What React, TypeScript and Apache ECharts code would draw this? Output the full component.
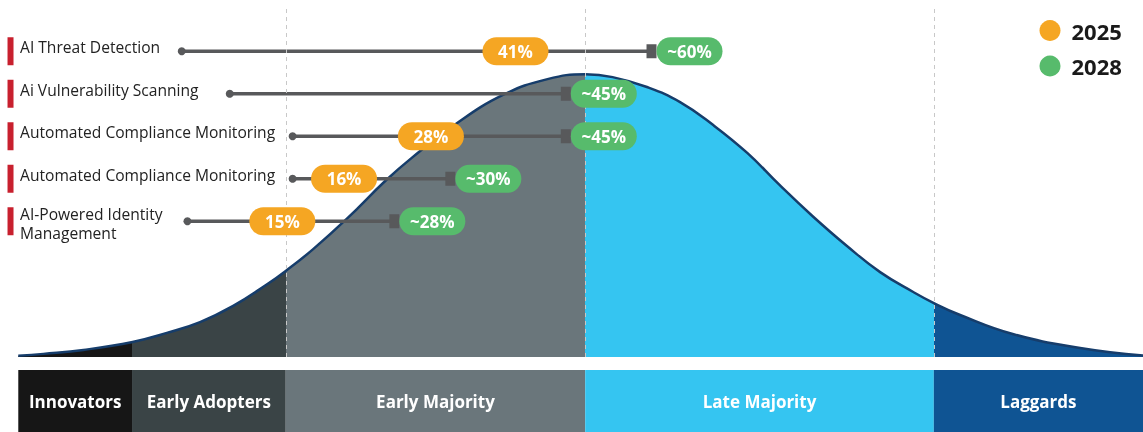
import React, { useEffect, useRef } from "react";
import * as echarts from "echarts";

// Adoption phases (x in % of chart width)
const phaseNames = ["Innovators", "Early Adopters", "Early Majority", "Late Majority", "Laggards"];
const phaseEdges = [1.6, 11.55, 25.0, 51.2, 81.7, 100];
const phaseColors = ["#161616", "#3a4446", "#6a767b", "#35c5f1", "#0f5493"];

// Bell curve (x: % of width, y: relative height)
const curveX = [1.6, 3.8, 7.3, 11.6, 14.6, 17.5, 20.4, 23.4, 25.0, 27.4, 30.4, 33.7, 36.1, 39.6, 44.0, 47.9, 51.2, 53.6, 56.6, 59.5, 62.4, 65.4, 68.2, 71.1, 74.1, 77.0, 79.9, 81.7, 84.0, 88.6, 94.5, 100];
const curveY = [0.4, 1.1, 2.5, 5.3, 8.5, 12.3, 18.0, 25.7, 30.3, 38.0, 48.9, 62.0, 70.4, 81.3, 92.3, 97.9, 99.6, 98.6, 95.1, 89.8, 81.7, 71.8, 60.6, 49.6, 39.1, 29.9, 22.9, 19.0, 14.8, 8.1, 3.2, 0.5];

// Technologies
const technologies = [
  "AI Threat Detection",
  "Ai Vulnerability Scanning",
  "Automated Compliance Monitoring",
  "Automated Compliance Monitoring",
  "AI-Powered Identity\nManagement",
];
const startPos = [15.9, 20.1, 25.6, 25.6, 16.4];
const pos2025 = [45.1, null, 37.7, 30.1, 24.7];
const value2025 = [41, null, 28, 16, 15];
const pos2028 = [57.0, 49.5, 49.5, 39.4, 34.5];
const value2028 = [60, 45, 45, 30, 28];

const ORANGE = "#f5a623";
const GREEN = "#57bb6c";
const CONNECTOR = "#58595b";
const FONT = "'Open Sans', sans-serif";

export default function App() {
  const ref = useRef<HTMLDivElement>(null);
  useEffect(() => {
    const chart = echarts.init(ref.current!, null, { renderer: "svg" });
    const curve = curveX.map((x, i) => [x, curveY[i]]);

    const pillLabel = (bg: string) => ({
      show: true,
      position: "inside",
      width: 66,
      height: 28,
      lineHeight: 28,
      align: "center",
      verticalAlign: "middle",
      backgroundColor: bg,
      borderRadius: 14,
      color: "#fff",
      fontSize: 17,
      fontWeight: "bold",
      fontFamily: FONT,
    });

    const connectorSeries = technologies.map((_, i) => ({
      type: "line",
      xAxisIndex: 1,
      yAxisIndex: 1,
      silent: true,
      z: 3,
      data: [
        { value: [startPos[i], i], symbol: "circle", symbolSize: 8 },
        { value: [pos2028[i], i], symbol: "none" },
      ],
      lineStyle: { color: CONNECTOR, width: 3.5 },
      itemStyle: { color: CONNECTOR },
    }));

    const phaseSeries = phaseNames.map((name, i) => ({
      type: "bar",
      xAxisIndex: 2,
      yAxisIndex: 2,
      stack: "phase",
      barWidth: "100%",
      silent: true,
      data: [phaseEdges[i + 1] - phaseEdges[i]],
      itemStyle: { color: phaseColors[i] },
      label: {
        show: true,
        position: "inside",
        formatter: name,
        color: "#fff",
        fontSize: 17,
        fontWeight: "bold",
        fontFamily: FONT,
      },
    }));

    chart.setOption({
      animation: false,
      textStyle: { fontFamily: FONT },
      grid: [
        { left: 0, right: 0, top: 5, bottom: 75 },
        { left: 0, right: 0, top: 30, height: 212.5 },
        { left: 0, right: 0, top: 370, bottom: 0 },
      ],
      xAxis: [
        { type: "value", gridIndex: 0, min: 0, max: 100, show: false },
        { type: "value", gridIndex: 1, min: 0, max: 100, show: false },
        { type: "value", gridIndex: 2, min: 0, max: 100, show: false },
      ],
      yAxis: [
        { type: "value", gridIndex: 0, min: 0, max: 124, show: false },
        { type: "value", gridIndex: 1, min: -0.5, max: 4.5, inverse: true, show: false },
        { type: "category", gridIndex: 2, data: ["phases"], show: false },
      ],
      visualMap: {
        type: "piecewise",
        show: false,
        dimension: 0,
        seriesIndex: 0,
        pieces: phaseColors.map((c, i) => {
          if (i === 0) return { lt: phaseEdges[1], color: c };
          if (i === phaseColors.length - 1) return { gte: phaseEdges[i], color: c };
          return { gte: phaseEdges[i], lt: phaseEdges[i + 1], color: c };
        }),
      },
      legend: {
        orient: "vertical",
        left: 1034.5,
        top: 14.5,
        itemWidth: 21,
        itemHeight: 21,
        itemGap: 13.5,
        icon: "circle",
        selectedMode: false,
        data: [
          { name: "2025", icon: "circle", itemStyle: { color: ORANGE } },
          { name: "2028", icon: "circle", itemStyle: { color: GREEN } },
        ],
        textStyle: {
          fontSize: 22,
          fontWeight: "bold",
          color: "#1a1a1a",
          lineHeight: 22,
          padding: [0, 0, 0, 6],
          fontFamily: FONT,
        },
      },
      series: [
        {
          type: "line",
          xAxisIndex: 0,
          yAxisIndex: 0,
          data: curve,
          smooth: 0.45,
          symbol: "none",
          silent: true,
          lineStyle: { width: 0, opacity: 0 },
          areaStyle: { opacity: 1 },
          z: 1,
        },
        {
          type: "line",
          xAxisIndex: 0,
          yAxisIndex: 0,
          data: curve,
          smooth: 0.45,
          symbol: "none",
          silent: true,
          lineStyle: { color: "#163d6b", width: 2.5 },
          z: 2,
          markLine: {
            silent: true,
            symbol: ["none", "none"],
            label: { show: false },
            lineStyle: { color: "#c8c8c8", type: [4, 4], width: 1 },
            data: [{ xAxis: phaseEdges[2] }, { xAxis: phaseEdges[3] }, { xAxis: phaseEdges[4] }],
          },
        },
        ...connectorSeries,
        {
          name: "2025",
          type: "scatter",
          xAxisIndex: 1,
          yAxisIndex: 1,
          silent: true,
          z: 5,
          symbol: "circle",
          symbolSize: 1,
          itemStyle: { color: ORANGE, opacity: 1 },
          data: technologies
            .map((_, i) => (pos2025[i] == null ? null : { value: [pos2025[i], i, value2025[i]] }))
            .filter((d) => d !== null),
          label: { ...pillLabel(ORANGE), formatter: (p: any) => `${p.value[2]}%` },
        },
        {
          name: "2028",
          type: "scatter",
          xAxisIndex: 1,
          yAxisIndex: 1,
          silent: true,
          z: 5,
          symbol: "rect",
          symbolSize: [10, 14],
          itemStyle: { color: CONNECTOR, opacity: 1 },
          data: technologies.map((_, i) => ({ value: [pos2028[i], i, value2028[i]] })),
          label: { ...pillLabel(GREEN), offset: [38, 0], formatter: (p: any) => `~${p.value[2]}%` },
        },
        {
          type: "scatter",
          xAxisIndex: 1,
          yAxisIndex: 1,
          silent: true,
          z: 4,
          symbol: "rect",
          symbolSize: [6, 28],
          itemStyle: { color: "#c8202e", opacity: 1 },
          data: technologies.map((name, i) => ({
            value: [0.92, i],
            name,
            label: name.includes("\n") ? { offset: [0, 2] } : { offset: [0, -4] },
          })),
          label: {
            show: true,
            position: "right",
            distance: 6.5,
            formatter: (p: any) => p.name,
            color: "#222",
            fontSize: 15.6,
            lineHeight: 19,
            fontFamily: FONT,
          },
        },
        {
          type: "bar",
          xAxisIndex: 2,
          yAxisIndex: 2,
          stack: "phase",
          barWidth: "100%",
          silent: true,
          data: [phaseEdges[0]],
          itemStyle: { color: "rgba(0,0,0,0)" },
        },
        ...phaseSeries,
      ],
    });
    return () => chart.dispose();
  }, []);
  return <div ref={ref} style={{ position: "fixed", left: 0, top: 0, width: 1143, height: 432 }} />;
}
